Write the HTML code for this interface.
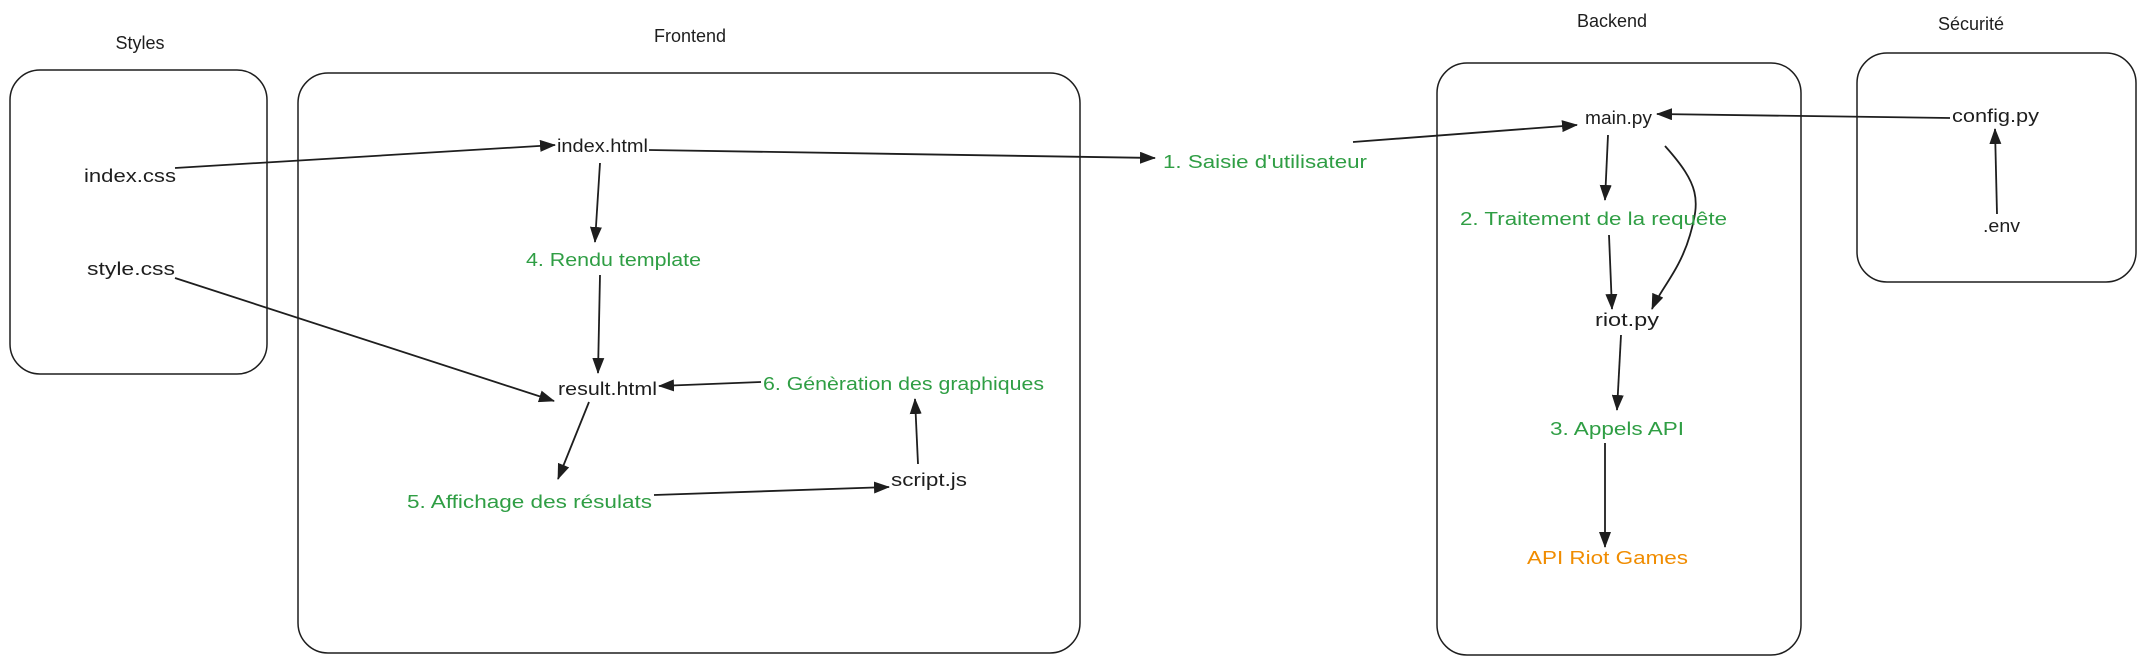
<!DOCTYPE html>
<html><head><meta charset="utf-8"><style>
html,body{margin:0;padding:0;background:#fff;}
svg{display:block;}
text{font-family:"Liberation Sans","DejaVu Sans",sans-serif;font-size:18px;fill:#1e1e1e;}
.g{fill:#2f9e44;}
.o{fill:#f08c00;}
</style></head><body>
<svg width="2138" height="662" viewBox="0 0 2138 662" xmlns="http://www.w3.org/2000/svg">
<defs>
<marker id="a" viewBox="0 0 16 12" refX="15" refY="6" markerWidth="16" markerHeight="12" markerUnits="userSpaceOnUse" orient="auto">
<path d="M0,0 L16,6 L0,12 Z" fill="#1e1e1e"/></marker>
</defs>
<g fill="none" stroke="#1e1e1e" stroke-width="1.5">
<rect x="10" y="70" width="257" height="304" rx="30"/>
<rect x="298" y="73" width="782" height="580" rx="30"/>
<rect x="1437" y="63" width="364" height="592" rx="30"/>
<rect x="1857" y="53" width="279" height="229" rx="30"/>
</g>
<text x="140" y="49" text-anchor="middle">Styles</text>
<text x="690" y="42" text-anchor="middle">Frontend</text>
<text x="1612" y="27" text-anchor="middle">Backend</text>
<text x="1971" y="30" text-anchor="middle">Sécurité</text>

<g fill="none" stroke="#1e1e1e" stroke-width="1.8" marker-end="url(#a)">
<line x1="175" y1="168" x2="555" y2="145"/>
<line x1="649" y1="150" x2="1155" y2="158"/>
<line x1="600" y1="163" x2="595" y2="242"/>
<line x1="600" y1="275" x2="598" y2="373"/>
<line x1="175" y1="278" x2="554" y2="401"/>
<line x1="761" y1="382" x2="659" y2="386"/>
<line x1="589" y1="402" x2="558" y2="479"/>
<line x1="654" y1="495" x2="889" y2="487"/>
<line x1="918" y1="464" x2="915" y2="399"/>
<line x1="1353" y1="142" x2="1577" y2="125"/>
<line x1="1950" y1="118" x2="1657" y2="114"/>
<line x1="1997" y1="214" x2="1995" y2="129"/>
<line x1="1608" y1="135" x2="1605" y2="200"/>
<line x1="1609" y1="235" x2="1612" y2="309"/>
<path d="M1665,146 C1700,185 1700,200 1690,235 C1680,270 1660,290 1652,309"/>
<line x1="1621" y1="335" x2="1617" y2="410"/>
<line x1="1605" y1="443" x2="1605" y2="547"/>
</g>

<text x="84" y="182" textLength="92" lengthAdjust="spacingAndGlyphs">index.css</text>
<text x="87" y="275" textLength="88" lengthAdjust="spacingAndGlyphs">style.css</text>
<text x="557" y="152" textLength="91" lengthAdjust="spacingAndGlyphs">index.html</text>
<text class="g" x="526" y="266" textLength="175" lengthAdjust="spacingAndGlyphs">4. Rendu template</text>
<text x="558" y="395" textLength="99" lengthAdjust="spacingAndGlyphs">result.html</text>
<text class="g" x="763" y="390" textLength="281" lengthAdjust="spacingAndGlyphs">6. Génèration des graphiques</text>
<text class="g" x="407" y="508" textLength="245" lengthAdjust="spacingAndGlyphs">5. Affichage des résulats</text>
<text x="891" y="486" textLength="76" lengthAdjust="spacingAndGlyphs">script.js</text>
<text class="g" x="1163" y="168" textLength="204" lengthAdjust="spacingAndGlyphs">1. Saisie d'utilisateur</text>
<text x="1585" y="124" textLength="67" lengthAdjust="spacingAndGlyphs">main.py</text>
<text x="1952" y="122" textLength="87" lengthAdjust="spacingAndGlyphs">config.py</text>
<text x="1983" y="232" textLength="37" lengthAdjust="spacingAndGlyphs">.env</text>
<text class="g" x="1460" y="225" textLength="267" lengthAdjust="spacingAndGlyphs">2. Traitement de la requête</text>
<text x="1595" y="326" textLength="64" lengthAdjust="spacingAndGlyphs">riot.py</text>
<text class="g" x="1550" y="435" textLength="134" lengthAdjust="spacingAndGlyphs">3. Appels API</text>
<text class="o" x="1527" y="564" textLength="161" lengthAdjust="spacingAndGlyphs">API Riot Games</text>
</svg>
</body></html>
